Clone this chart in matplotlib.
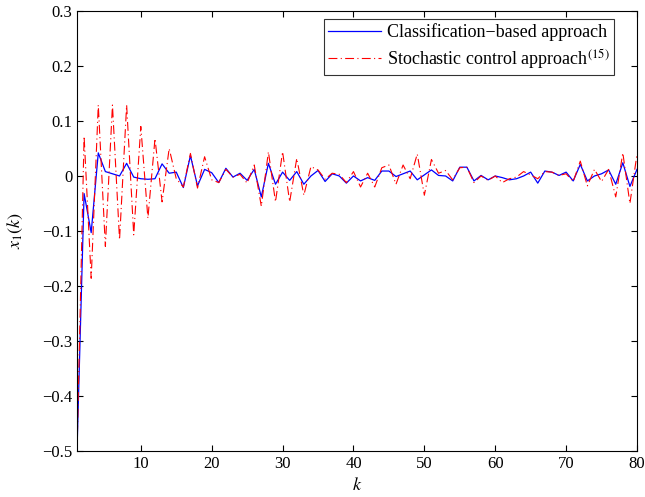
import numpy as np
import matplotlib
matplotlib.use('Agg')
import matplotlib.pyplot as plt

plt.rcParams['font.family'] = ['Liberation Serif', 'DejaVu Serif']
plt.rcParams['mathtext.fontset'] = 'stix'

k = np.arange(1, 81)

x1_classification = [
    -0.5, -0.032, -0.103, 0.042, 0.008, 0.004, 0.0, 0.023, -0.002, -0.005,
    -0.006, -0.005, 0.022, 0.005, 0.007, -0.021, 0.037, -0.018, 0.012, 0.006,
    -0.012, 0.014, -0.002, 0.005, -0.008, 0.012, -0.038, 0.023, -0.015, 0.007,
    -0.008, 0.008, -0.015, 0.0, 0.01, -0.01, 0.004, 0.0, -0.013, 0.0,
    -0.009, -0.003, -0.008, 0.009, 0.009, -0.001, 0.004, 0.009, -0.007, 0.002,
    0.011, 0.001, 0.0, -0.009, 0.016, 0.016, -0.009, 0.001, -0.007, 0.0,
    -0.003, -0.007, -0.005, 0.0, 0.007, -0.013, 0.009, 0.007, 0.001, 0.007,
    -0.009, 0.021, -0.009, 0.0, 0.004, 0.011, -0.015, 0.024, -0.019, 0.012,
]

x1_stochastic = [
    -0.5, 0.072, -0.186, 0.129, -0.128, 0.129, -0.116, 0.129, -0.107, 0.09,
    -0.077, 0.068, -0.047, 0.05, -0.005, -0.02, 0.041, -0.022, 0.035, -0.007,
    -0.012, 0.012, -0.002, 0.003, -0.013, 0.02, -0.055, 0.044, -0.047, 0.044,
    -0.047, 0.032, -0.035, 0.017, 0.011, -0.006, 0.005, 0.003, -0.012, 0.008,
    -0.02, 0.005, -0.02, 0.015, 0.02, -0.015, 0.02, -0.005, 0.04, -0.035,
    0.03, 0.005, 0.01, -0.007, 0.015, 0.016, -0.012, 0.0, -0.008, 0.0,
    -0.012, -0.005, -0.002, 0.008, 0.002, -0.005, 0.008, 0.007, 0.001, 0.004,
    -0.01, 0.027, -0.018, 0.012, -0.01, 0.012, -0.038, 0.042, -0.05, 0.04,
]

fig = plt.figure(figsize=(6.45, 4.97), dpi=100)
ax = fig.add_axes([0.1194, 0.0926, 0.8682, 0.8853])

ax.plot(k, x1_classification, color='blue', lw=0.9, label='Classification\u2212based approach')
ax.plot(k, x1_stochastic, color='red', lw=0.8, linestyle=(0, (8, 3, 1, 3)),
        label='Stochastic control approach$^{(15)}$')

ax.set_xlim(1, 80)
ax.set_ylim(-0.5, 0.3)
ax.set_xticks(np.arange(10, 81, 10))
ax.set_yticks(np.round(np.arange(-0.5, 0.31, 0.1), 1))
ax.set_yticklabels(['\u22120.5', '\u22120.4', '\u22120.3', '\u22120.2', '\u22120.1', '0', '0.1', '0.2', '0.3'])
ax.tick_params(direction='in', top=True, right=True, labelsize=12, length=4, width=0.8)
for s in ax.spines.values():
    s.set_linewidth(0.8)

ax.set_xlabel('$k$', fontsize=13, labelpad=4)
ax.set_ylabel('$x_1(k)$', fontsize=13, labelpad=12)

leg = ax.legend(loc='upper right', fontsize=13, frameon=True, fancybox=False,
                edgecolor='black', handlelength=2.9, handletextpad=0.35,
                borderaxespad=0, labelspacing=0.3, borderpad=0.25,
                bbox_to_anchor=(614 / 645, 1 - 19 / 497),
                bbox_transform=fig.transFigure)
leg.get_frame().set_linewidth(0.8)

fig.savefig('out.png', dpi=100)
